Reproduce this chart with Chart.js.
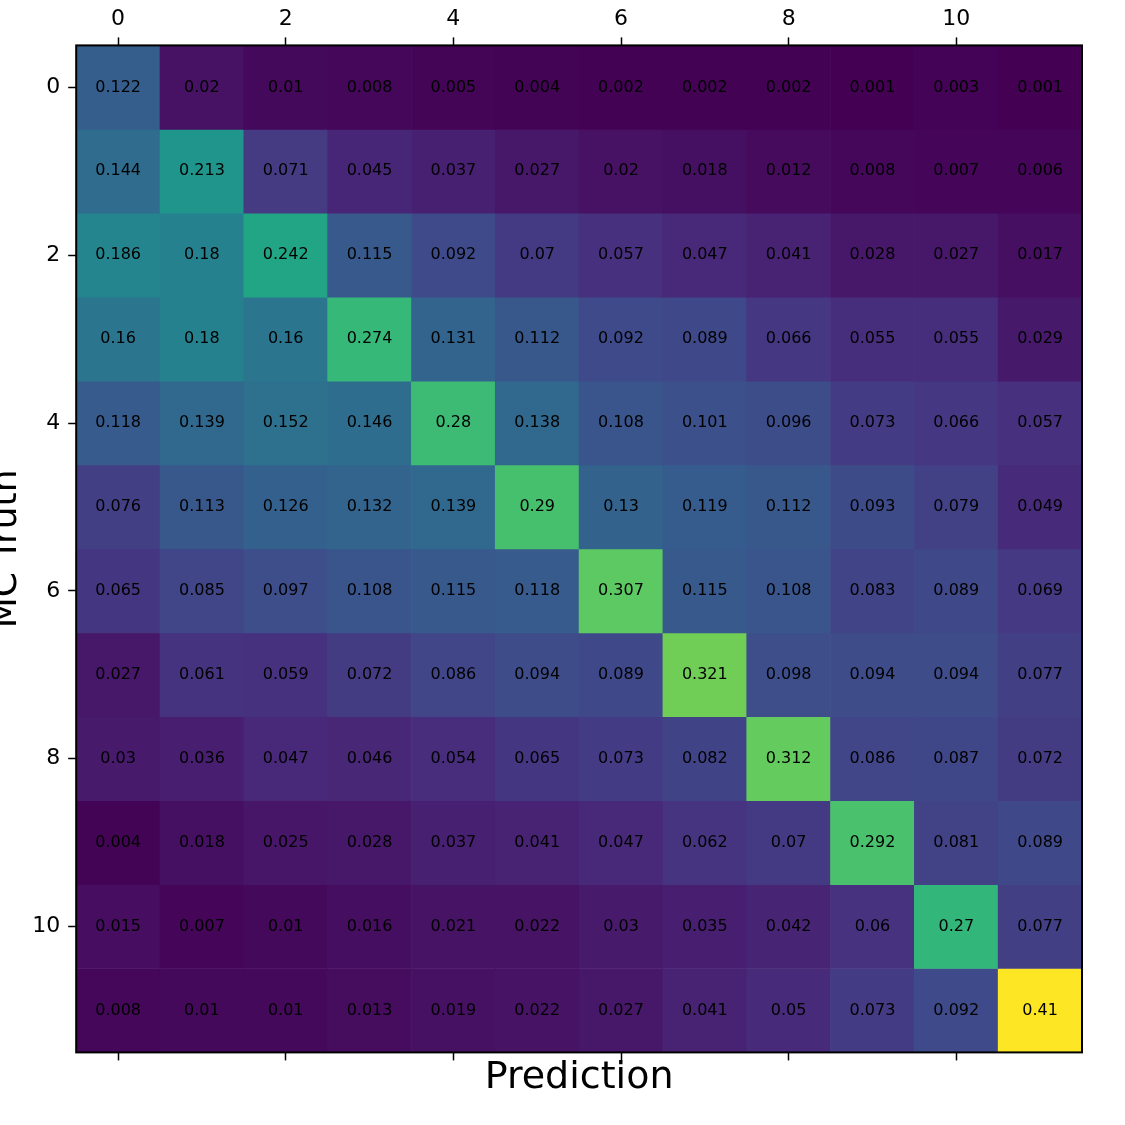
<!DOCTYPE html>
<html>
<head>
<meta charset="utf-8">
<title>Confusion matrix</title>
<script src="https://cdn.jsdelivr.net/npm/chart.js@4"></script>
<style>
    html, body { margin: 0; padding: 0; background: #ffffff; }
    #wrap { width: 1125px; height: 1125px; }
</style>
</head>
<body>
<div id="wrap"><canvas id="matrixChart" width="1125" height="1125"></canvas></div>
<script>
// confusion matrix: rows = MC truth class, columns = predicted class

const classes = [0, 1, 2, 3, 4, 5, 6, 7, 8, 9, 10, 11];
const tickValues = [0, 2, 4, 6, 8, 10];

const row0  = [0.122, 0.02,  0.01,  0.008, 0.005, 0.004, 0.002, 0.002, 0.002, 0.001, 0.003, 0.001];
const row1  = [0.144, 0.213, 0.071, 0.045, 0.037, 0.027, 0.02,  0.018, 0.012, 0.008, 0.007, 0.006];
const row2  = [0.186, 0.18,  0.242, 0.115, 0.092, 0.07,  0.057, 0.047, 0.041, 0.028, 0.027, 0.017];
const row3  = [0.16,  0.18,  0.16,  0.274, 0.131, 0.112, 0.092, 0.089, 0.066, 0.055, 0.055, 0.029];
const row4  = [0.118, 0.139, 0.152, 0.146, 0.28,  0.138, 0.108, 0.101, 0.096, 0.073, 0.066, 0.057];
const row5  = [0.076, 0.113, 0.126, 0.132, 0.139, 0.29,  0.13,  0.119, 0.112, 0.093, 0.079, 0.049];
const row6  = [0.065, 0.085, 0.097, 0.108, 0.115, 0.118, 0.307, 0.115, 0.108, 0.083, 0.089, 0.069];
const row7  = [0.027, 0.061, 0.059, 0.072, 0.086, 0.094, 0.089, 0.321, 0.098, 0.094, 0.094, 0.077];
const row8  = [0.03,  0.036, 0.047, 0.046, 0.054, 0.065, 0.073, 0.082, 0.312, 0.086, 0.087, 0.072];
const row9  = [0.004, 0.018, 0.025, 0.028, 0.037, 0.041, 0.047, 0.062, 0.07,  0.292, 0.081, 0.089];
const row10 = [0.015, 0.007, 0.01,  0.016, 0.021, 0.022, 0.03,  0.035, 0.042, 0.06,  0.27,  0.077];
const row11 = [0.008, 0.01,  0.01,  0.013, 0.019, 0.022, 0.027, 0.041, 0.05,  0.073, 0.092, 0.41];

const matrix = [row0, row1, row2, row3, row4, row5, row6, row7, row8, row9, row10, row11];

// viridis anchors, every 0.05
const viridis = [
    '#440154', '#471365', '#482475', '#463480', '#414487', '#3b528b', '#355f8d',
    '#2f6c8e', '#2a788e', '#25848e', '#21918c', '#1e9c89', '#22a884', '#2fb47c',
    '#44bf70', '#5ec962', '#7ad151', '#9bd93c', '#bddf26', '#dfe318', '#fde725'
];

function hexToRgb(hex) {
    const n = parseInt(hex.slice(1), 16);
    return [(n >> 16) & 255, (n >> 8) & 255, n & 255];
}

function viridisColor(t) {
    t = Math.max(0, Math.min(1, t));
    const pos = t * (viridis.length - 1);
    const i = Math.min(Math.floor(pos), viridis.length - 2);
    const f = pos - i;
    const a = hexToRgb(viridis[i]);
    const b = hexToRgb(viridis[i + 1]);
    const c = a.map((v, k) => Math.round(v + (b[k] - v) * f));
    return `rgb(${c[0]}, ${c[1]}, ${c[2]})`;
}

const allValues = matrix.flat();
const vmin = Math.min(...allValues);
const vmax = Math.max(...allValues);

// one floating-bar dataset per truth row
const datasets = matrix.map((rowValues, i) => ({
    label: 'truth ' + classes[i],
    data: rowValues.map((v, j) => ({ x: classes[j], y: [classes[i] - 0.5, classes[i] + 0.5], v: v })),
    backgroundColor: rowValues.map(v => viridisColor((v - vmin) / (vmax - vmin))),
    borderWidth: 0,
    barPercentage: 1,
    categoryPercentage: 1
}));

// write the value in each cell
const cellLabels = {
    id: 'cellLabels',
    afterDatasetsDraw(chart) {
        const ctx = chart.ctx;
        ctx.save();
        ctx.fillStyle = '#000000';
        ctx.font = '16px "DejaVu Sans"';
        ctx.textAlign = 'center';
        ctx.textBaseline = 'middle';
        chart.data.datasets.forEach((ds, i) => {
            const meta = chart.getDatasetMeta(i);
            meta.data.forEach((el, j) => {
                ctx.fillText(String(ds.data[j].v), el.x, (el.y + el.base) / 2);
            });
        });
        ctx.restore();
    }
};

// black frame round the image
const frame = {
    id: 'frame',
    afterDatasetsDraw(chart) {
        const { ctx, chartArea } = chart;
        ctx.save();
        ctx.strokeStyle = '#000000';
        ctx.lineWidth = 2;
        ctx.strokeRect(chartArea.left, chartArea.top, chartArea.right - chartArea.left, chartArea.bottom - chartArea.top);
        ctx.restore();
    }
};

const setTicks = scale => { scale.ticks = tickValues.map(v => ({ value: v })); };

const axisGrid = {
    offset: false,
    drawOnChartArea: false,
    drawTicks: true,
    tickLength: 8,
    tickWidth: 1.5,
    color: '#000000'
};

new Chart(document.getElementById('matrixChart'), {
    type: 'bar',
    data: { datasets: datasets },
    options: {
        responsive: false,
        animation: false,
        layout: { padding: { top: 1, right: 43, bottom: 24, left: -19 } },
        plugins: {
            legend: { display: false },
            tooltip: { enabled: false }
        },
        scales: {
            x: {
                type: 'linear',
                position: 'top',
                stacked: true,
                min: -0.5,
                max: 11.5,
                offset: false,
                afterBuildTicks: setTicks,
                grid: axisGrid,
                border: { display: false },
                ticks: {
                    color: '#000000',
                    padding: 5,
                    font: { family: 'DejaVu Sans', size: 22 }
                }
            },
            x2: {
                type: 'linear',
                position: 'bottom',
                min: -0.5,
                max: 11.5,
                offset: false,
                afterBuildTicks: setTicks,
                grid: axisGrid,
                border: { display: false },
                ticks: { display: false },
                title: {
                    display: true,
                    text: 'Prediction',
                    color: '#000000',
                    padding: { top: -5, bottom: 0 },
                    font: { family: 'DejaVu Sans', size: 38 }
                }
            },
            y: {
                type: 'linear',
                reverse: true,
                stacked: false,
                min: -0.5,
                max: 11.5,
                afterBuildTicks: setTicks,
                grid: axisGrid,
                border: { display: false },
                ticks: {
                    color: '#000000',
                    padding: 8,
                    font: { family: 'DejaVu Sans', size: 22 }
                },
                title: {
                    display: true,
                    text: 'MC Truth',
                    color: '#000000',
                    padding: { top: 4, bottom: -4 },
                    font: { family: 'DejaVu Sans', size: 36 }
                }
            }
        }
    },
    plugins: [cellLabels, frame]
});
</script>
</body>
</html>
